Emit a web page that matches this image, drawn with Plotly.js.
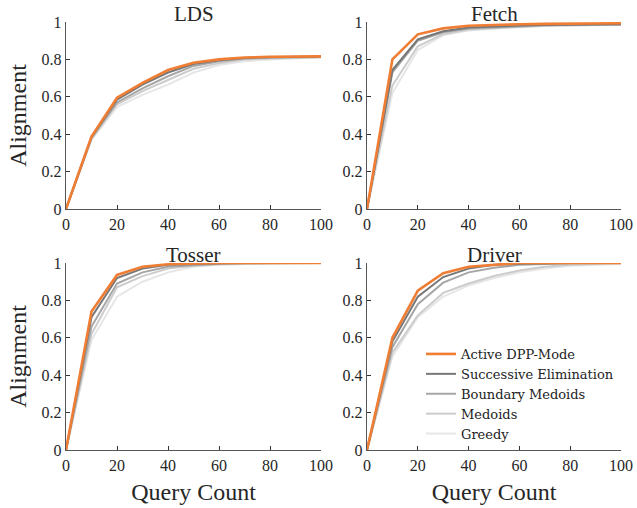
<!DOCTYPE html>
<html><head><meta charset="utf-8">
<script src="https://cdn.plot.ly/plotly-3.0.1.min.js"></script>
<style>html,body{margin:0;padding:0;background:#fff}#chart{width:637px;height:508px}</style>
</head><body><div id="chart"></div>
<script>
const queryCount = [0, 10, 20, 30, 40, 50, 60, 70, 80, 90, 100];
const methods = ["Greedy", "Medoids", "Boundary Medoids", "Successive Elimination", "Active DPP-Mode"];
const methodColors = ["#e6e6e6", "#cccccc", "#a6a6a6", "#777777", "#ef7d33"];
const methodWidths = [2, 2, 2, 2, 2.6];
const panels = ["LDS", "Fetch", "Tosser", "Driver"];

const ldsGreedy  = [0, 0.37, 0.545, 0.61, 0.665, 0.73, 0.77, 0.79, 0.80, 0.805, 0.81];
const ldsMedoids = [0, 0.375, 0.56, 0.63, 0.69, 0.75, 0.78, 0.80, 0.805, 0.81, 0.812];
const ldsBoundary= [0, 0.38, 0.57, 0.645, 0.71, 0.765, 0.79, 0.805, 0.81, 0.812, 0.813];
const ldsSE      = [0, 0.385, 0.585, 0.665, 0.73, 0.775, 0.795, 0.808, 0.812, 0.814, 0.815];
const ldsDPP     = [0, 0.387, 0.595, 0.675, 0.743, 0.782, 0.80, 0.81, 0.814, 0.815, 0.816];

const fetchGreedy  = [0, 0.62, 0.85, 0.93, 0.955, 0.965, 0.972, 0.978, 0.981, 0.983, 0.985];
const fetchMedoids = [0, 0.66, 0.87, 0.935, 0.96, 0.968, 0.975, 0.98, 0.983, 0.985, 0.986];
const fetchBoundary= [0, 0.73, 0.90, 0.945, 0.965, 0.972, 0.978, 0.982, 0.985, 0.986, 0.987];
const fetchSE      = [0, 0.743, 0.907, 0.95, 0.97, 0.977, 0.981, 0.984, 0.986, 0.987, 0.988];
const fetchDPP     = [0, 0.80, 0.934, 0.966, 0.98, 0.985, 0.988, 0.99, 0.991, 0.992, 0.993];

const tosserGreedy  = [0, 0.588, 0.82, 0.90, 0.95, 0.98, 0.99, 0.995, 0.998, 0.999, 1.0];
const tosserMedoids = [0, 0.62, 0.87, 0.93, 0.97, 0.985, 0.993, 0.997, 0.999, 1.0, 1.0];
const tosserBoundary= [0, 0.66, 0.89, 0.95, 0.98, 0.99, 0.996, 0.998, 1.0, 1.0, 1.0];
const tosserSE      = [0, 0.71, 0.92, 0.97, 0.99, 0.995, 0.998, 1.0, 1.0, 1.0, 1.0];
const tosserDPP     = [0, 0.74, 0.936, 0.98, 0.993, 0.998, 1.0, 1.0, 1.0, 1.0, 1.0];

const driverGreedy  = [0, 0.50, 0.71, 0.82, 0.88, 0.92, 0.95, 0.97, 0.985, 0.99, 0.995];
const driverMedoids = [0, 0.52, 0.72, 0.84, 0.89, 0.93, 0.96, 0.98, 0.99, 0.995, 0.998];
const driverBoundary= [0, 0.55, 0.78, 0.895, 0.95, 0.975, 0.99, 0.995, 0.998, 1.0, 1.0];
const driverSE      = [0, 0.58, 0.82, 0.925, 0.97, 0.99, 0.996, 0.999, 1.0, 1.0, 1.0];
const driverDPP     = [0, 0.60, 0.852, 0.945, 0.98, 0.99, 1.0, 1.0, 1.0, 1.0, 1.0];

const panelData = [
  [ldsGreedy, ldsMedoids, ldsBoundary, ldsSE, ldsDPP],
  [fetchGreedy, fetchMedoids, fetchBoundary, fetchSE, fetchDPP],
  [tosserGreedy, tosserMedoids, tosserBoundary, tosserSE, tosserDPP],
  [driverGreedy, driverMedoids, driverBoundary, driverSE, driverDPP]
];

const W = 637, H = 508;
const xDom = [[66/W, 321/W], [367/W, 621/W]];
const yDom = [[1-209/H, 1-22/H], [1-450/H, 1-263/H]];
const FONT = "'Liberation Serif', 'Times New Roman', serif";
const LEGEND_FONT = "'DejaVu Serif', serif";

const traces = [];
panelData.forEach((series, p) => {
  const ax = p === 0 ? "" : String(p+1);
  series.forEach((vals, m) => {
    traces.push({
      type: "scatter", mode: "lines",
      x: queryCount, y: vals,
      name: methods[m],
      xaxis: "x"+ax, yaxis: "y"+ax,
      line: {color: methodColors[m], width: methodWidths[m]},
      showlegend: p === 3,
      hoverinfo: "skip"
    });
  });
});

const layout = {
  width: W, height: H,
  margin: {l:0, r:0, t:0, b:0},
  paper_bgcolor: "#fff", plot_bgcolor: "#fff",
  font: {family: FONT, color: "#262626", size: 16},
  showlegend: true,
  legend: {
    x: 421/W, y: 1-339/H, xanchor: "left", yanchor: "top",
    traceorder: "reversed", bgcolor: "rgba(0,0,0,0)",
    font: {family: LEGEND_FONT, size: 13, color: "#222"},
    itemwidth: 30, tracegroupgap: 0
  },
  annotations: []
};

for (let p = 0; p < 4; p++) {
  const ax = p === 0 ? "" : String(p+1);
  const col = p % 2, row = Math.floor(p/2);
  const xa = {
    domain: xDom[col], range: [0, 100], anchor: "y"+ax,
    tickvals: [0, 20, 40, 60, 80, 100], ticks: "inside", ticklen: 4, tickwidth: 1, tickcolor: "#333",
    showline: true, linecolor: "#555", linewidth: 1.3, showgrid: false, zeroline: false,
    tickfont: {family: FONT, size: 16, color: "#262626"}, fixedrange: true
  };
  const ya = {
    domain: yDom[row], range: [0, 1], anchor: "x"+ax,
    tickvals: [0, 0.2, 0.4, 0.6, 0.8, 1], ticktext: ["0", "0.2", "0.4", "0.6", "0.8", "1"],
    ticks: "inside", ticklen: 4, tickwidth: 1, tickcolor: "#333",
    showline: true, linecolor: "#555", linewidth: 1.3, showgrid: false, zeroline: false,
    tickfont: {family: FONT, size: 16, color: "#262626"}, fixedrange: true
  };
  if (row === 1) xa.title = {text: "Query Count", font: {family: FONT, size: 24, color: "#262626"}, standoff: 10};
  if (col === 0) ya.title = {text: "Alignment", font: {family: FONT, size: 24, color: "#262626"}, standoff: 8};
  layout["xaxis"+ax] = xa;
  layout["yaxis"+ax] = ya;
  layout.annotations.push({
    text: panels[p], xref: "paper", yref: "paper",
    x: (xDom[col][0]+xDom[col][1])/2, y: yDom[row][1] + 8/H,
    xanchor: "center", yanchor: "middle", showarrow: false,
    font: {family: FONT, size: 21, color: "#262626"}
  });
}

Plotly.newPlot("chart", traces, layout, {staticPlot: true, displayModeBar: false});
</script></body></html>
